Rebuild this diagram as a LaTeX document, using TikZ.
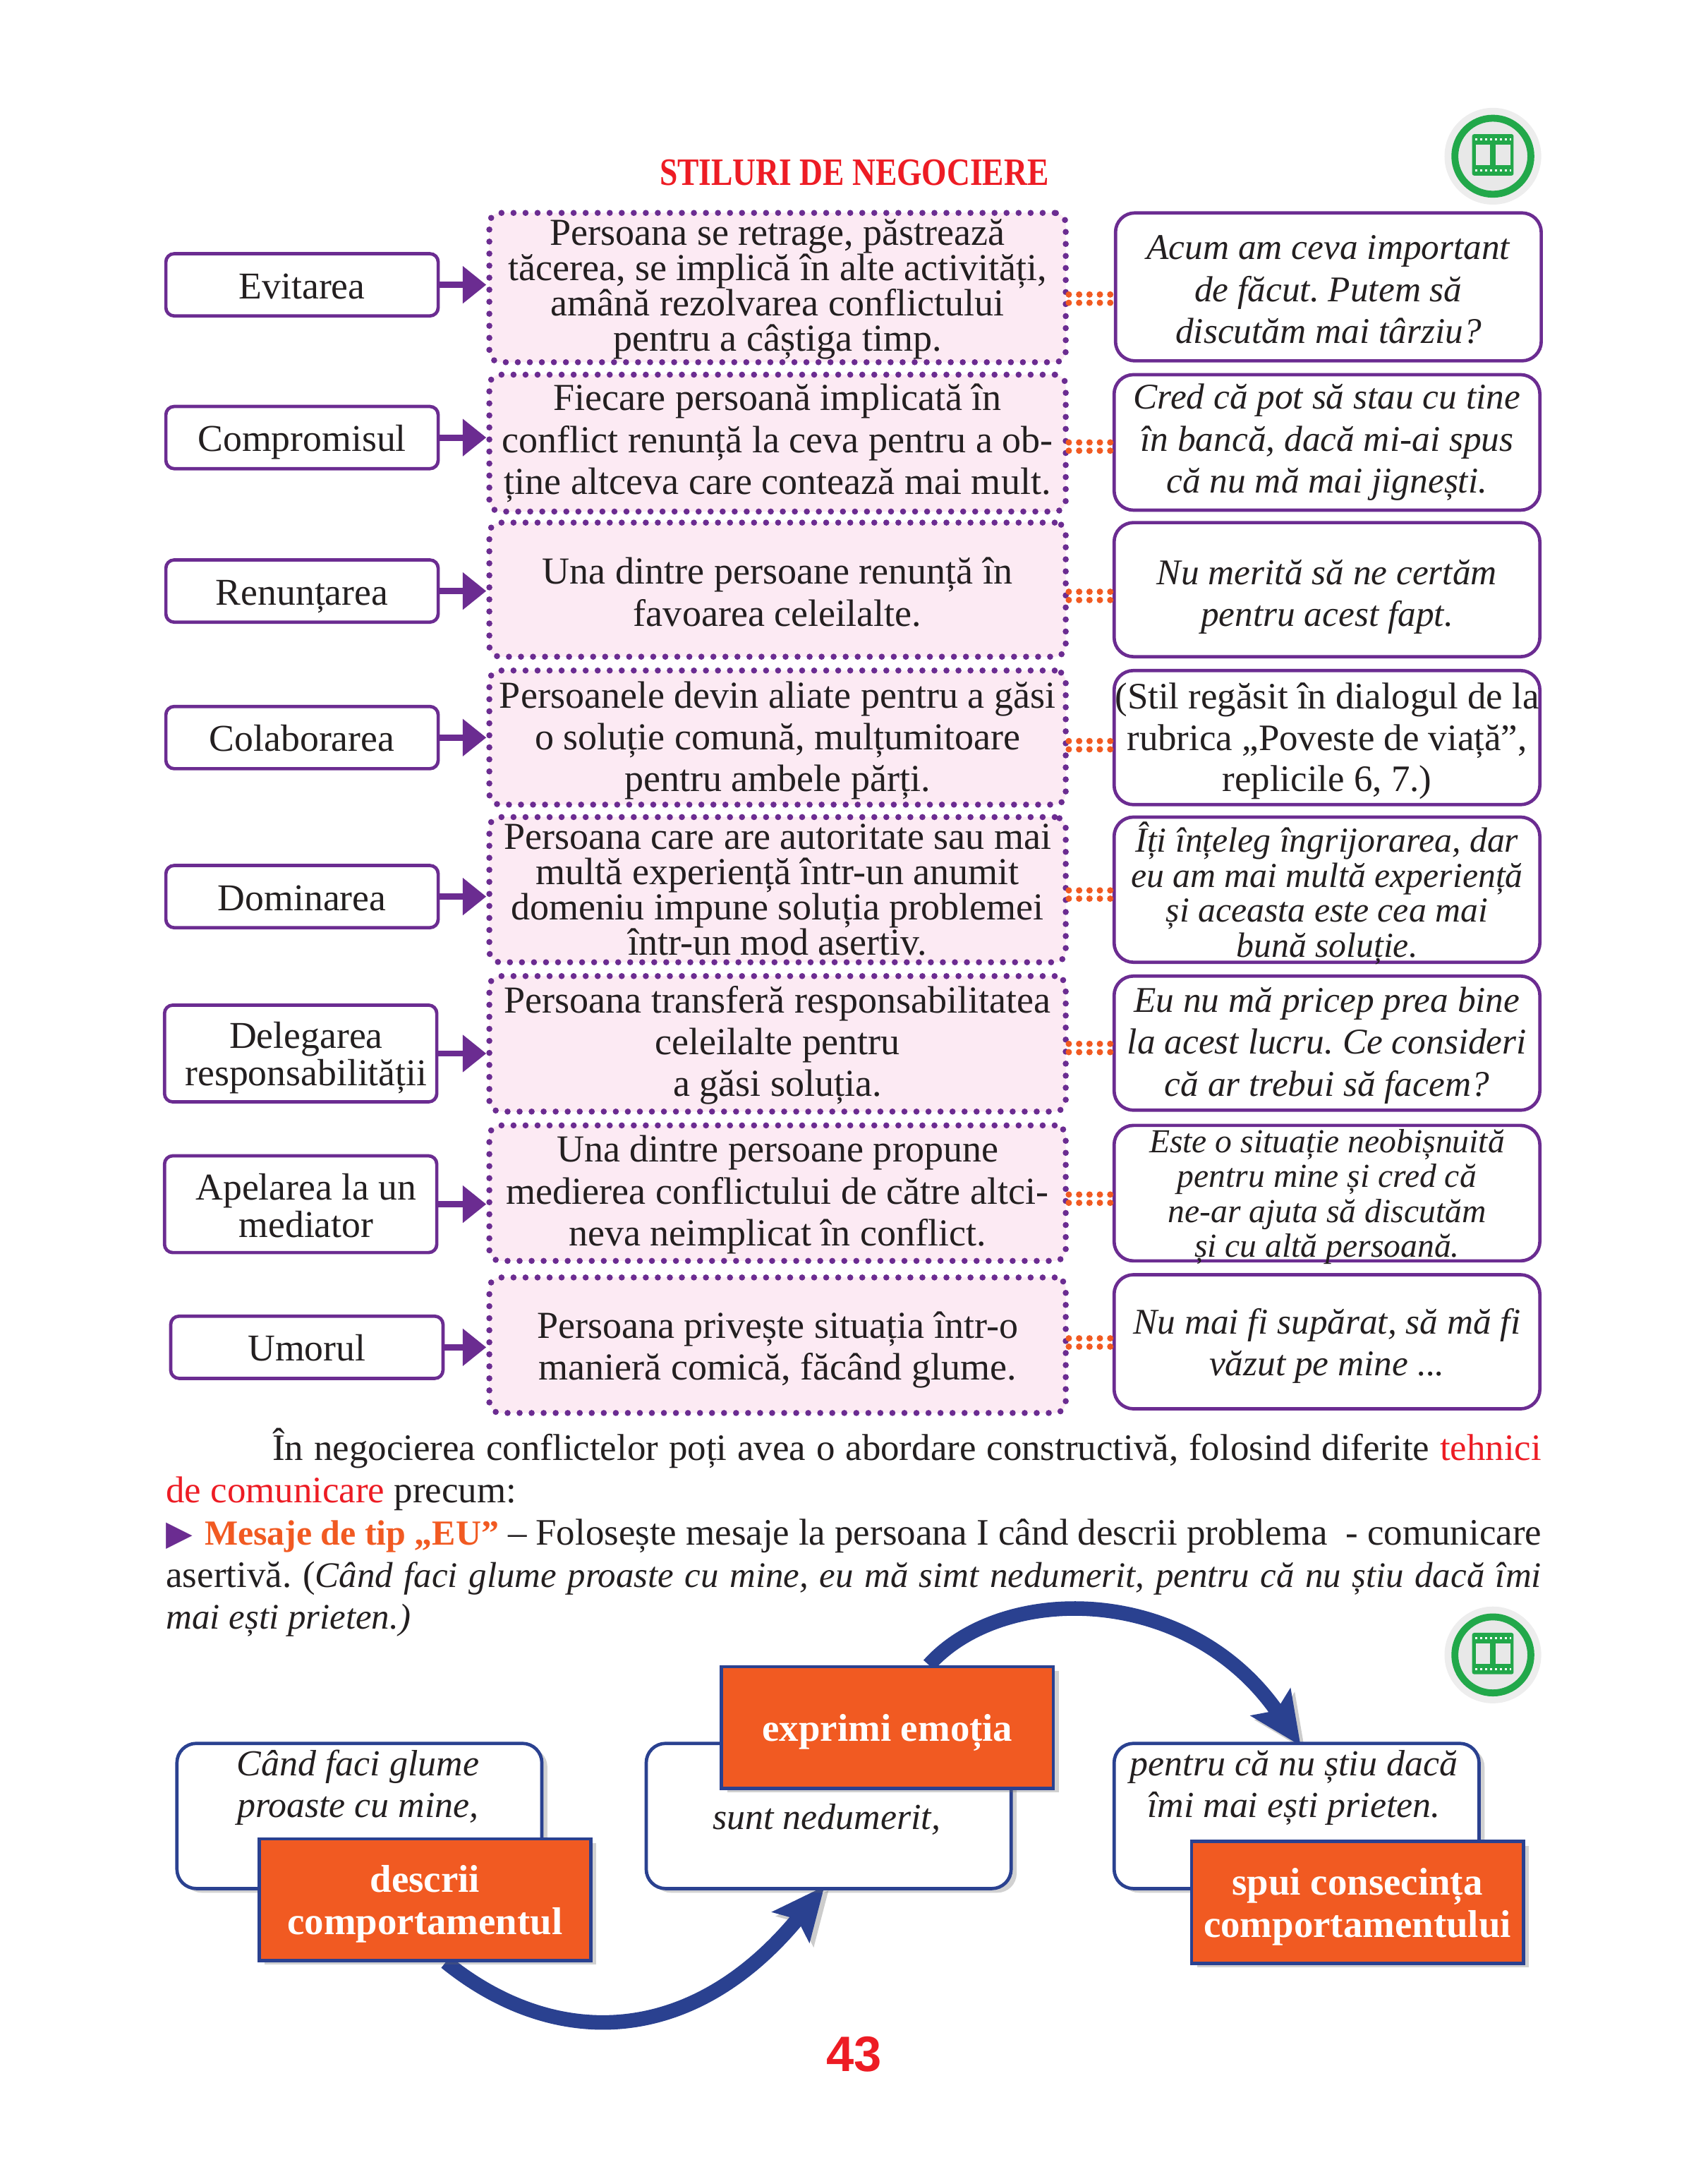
\documentclass[tikz,border=0pt]{standalone}
\usepackage{fontspec}
\setmainfont{Liberation Serif}
\newfontfamily\numfont{Liberation Sans}
\newfontfamily\symfont{DejaVu Sans}
\newfontfamily\titlefont{Liberation Serif}[FakeStretch=0.83]
\usetikzlibrary{arrows.meta,shadows,backgrounds}
\definecolor{stylepurple}{HTML}{6B2C91}
\definecolor{stylepink}{HTML}{FCEAF3}
\definecolor{styleorange}{HTML}{F15A22}
\definecolor{styleblue}{HTML}{2A4190}
\definecolor{stylered}{HTML}{ED1C24}
\definecolor{stylegreen}{HTML}{22A84A}
\definecolor{inkblack}{HTML}{231F20}
\tikzset{
  x=1pt, y=-1pt,
  every node/.style={text=inkblack},
  namebox/.style={draw=stylepurple, line width=2.4pt, rounded corners=6pt, inner sep=0pt,
    minimum width=197pt, minimum height=45pt, align=center, font=\fontsize{27.4}{27}\selectfont,
    execute at begin node={\rule[-6pt]{0pt}{32pt}}},
  midbox/.style={draw=stylepurple, fill=stylepink, line width=4.4pt, line cap=round,
    dash pattern=on 0pt off 8.7pt, rounded corners=8pt, inner sep=0pt, minimum width=417pt,
    align=center, font=\fontsize{27.6}{30.3}\selectfont},
  quotebox/.style={draw=stylepurple, line width=2.4pt, rounded corners=14pt, inner sep=0pt,
    minimum width=308pt, align=center, font=\fontsize{26.2}{30.3}\selectfont\itshape},
  tightrow/.style={font=\fontsize{27.6}{25.6}\selectfont},
  tightquote/.style={font=\fontsize{25.4}{25.3}\selectfont\itshape},
  smallquote/.style={font=\fontsize{24.3}{25.3}\selectfont\itshape},
  droptext/.style={execute at begin node={\rule{0pt}{#1}}},
  linkarrow/.style={-{Triangle[length=17pt,width=26pt]}, draw=stylepurple, line width=4.5pt},
  dotlink/.style={draw=styleorange, line width=4.6pt, line cap=round, dash pattern=on 0pt off 7.5pt},
  notebox/.style={draw=styleblue, fill=white, line width=2.4pt, rounded corners=14pt, inner sep=0pt,
    minimum width=264pt, minimum height=105pt,
    drop shadow={shadow xshift=4pt, shadow yshift=-3pt, opacity=.3, fill=black!60}},
  notetext/.style={inner sep=0pt, align=center, font=\fontsize{26.5}{30}\selectfont\itshape},
  stepbox/.style={draw=styleblue, fill=styleorange, line width=2.4pt, inner sep=0pt, text=white,
    minimum width=240pt, minimum height=88pt, align=center,
    font=\fontsize{28}{30.5}\selectfont\bfseries,
    drop shadow={shadow xshift=4pt, shadow yshift=-3pt, opacity=.3, fill=black!60}},
  curvearrow/.style={-{Stealth[length=38pt,width=34pt,inset=7pt]}, draw=styleblue, line width=10.5pt,
    preaction={draw=black!20, transform canvas={xshift=3pt,yshift=-3pt}}}
}
\begin{document}
\frenchspacing
\begin{tikzpicture}
    \useasboundingbox (0,0) rectangle (1235.4,1567.4);

    \node[text=stylered, font=\titlefont\fontsize{28}{30}\selectfont\bfseries] (title) at (618,125) {STILURI DE NEGOCIERE};

    % the eight rows
    \node[namebox] (evitarea) at (218.5,206) {Evitarea};
    \node[midbox, tightrow, droptext=98pt, minimum height=108pt] (evitareamid) at (562.5,208) {Persoana se retrage, păstrează\\tăcerea, se implică în alte activități,\\amână rezolvarea conflictului\\pentru a câștiga timp.};
    \node[quotebox, droptext=82pt, minimum height=107pt] (evitarearight) at (961,207.5) {Acum am ceva important\\de făcut. Putem să\\discutăm mai târziu?};

    \node[namebox] (compromis) at (218.5,316.5) {Compromisul};
    \node[midbox, minimum height=99pt] (compromismid) at (562.5,320.5) {Fiecare persoană implicată în\\conflict renunță la ceva pentru a ob-\\ține altceva care contează mai mult.};
    \node[quotebox, minimum height=98pt] (compromisright) at (960,320) {Cred că pot să stau cu tine\\în bancă, dacă mi-ai spus\\că nu mă mai jignești.};

    \node[namebox] (renuntare) at (218.5,427.5) {Renunțarea};
    \node[midbox, droptext=53pt, minimum height=97pt] (renuntaremid) at (562.5,426.5) {Una dintre persoane renunță în\\favoarea celeilalte.};
    \node[quotebox, droptext=59pt, minimum height=97pt] (renuntareright) at (960,426.5) {Nu merită să ne certăm\\pentru acest fapt.};

    \node[namebox] (colaborare) at (218.5,533.5) {Colaborarea};
    \node[midbox, droptext=84pt, minimum height=97pt] (colaboraremid) at (562.5,533.5) {Persoanele devin aliate pentru a găsi\\o soluție comună, mulțumitoare\\pentru ambele părți.};
    \node[quotebox, droptext=84pt, minimum height=97pt, font=\fontsize{27}{30}\selectfont] (colaborareright) at (960,533.5) {(Stil regăsit în dialogul de la\\rubrica „Poveste de viață”,\\replicile 6, 7.)};

    \node[namebox] (dominare) at (218.5,648.5) {Dominarea};
    \node[midbox, tightrow, minimum height=105pt] (dominaremid) at (562.5,643.5) {Persoana care are autoritate sau mai\\multă experiență într-un anumit\\domeniu impune soluția problemei\\\smash{într-un mod asertiv.}};
    \node[quotebox, tightquote, minimum height=105pt] (dominareright) at (960,643.5) {Îți înțeleg îngrijorarea, dar\\eu am mai multă experiență\\și aceasta este cea mai\\\smash{bună soluție.}};

    \node[namebox, droptext=52pt, minimum height=70pt] (delegare) at (217.5,762) {\hspace*{8pt}Delegarea\\\hspace*{8pt}responsabilității};
    \node[midbox, droptext=82pt, minimum height=98pt] (delegaremid) at (562.5,755) {Persoana transferă responsabilitatea\\celeilalte pentru\\a găsi soluția.};
    \node[quotebox, droptext=82pt, minimum height=97pt] (delegareright) at (960,754.5) {Eu nu mă pricep prea bine\\la acest lucru. Ce consideri\\că ar trebui să facem?};

    \node[namebox, droptext=54pt, minimum height=70pt] (mediator) at (217.5,871) {\hspace*{8pt}Apelarea la un\\\hspace*{8pt}mediator};
    \node[midbox, droptext=82pt, minimum height=98pt] (mediatormid) at (562.5,863) {Una dintre persoane propune\\medierea conflictului de către altci-\\neva neimplicat în conflict.};
    \node[quotebox, smallquote, minimum height=98pt] (mediatorright) at (960,863) {Este o situație neobișnuită\\pentru mine și cred că\\ne-ar ajuta să discutăm\\\smash{și cu altă persoană.}};

    \node[namebox] (umor) at (222,974.5) {Umorul};
    \node[midbox, droptext=56pt, minimum height=98pt] (umormid) at (562.5,973) {Persoana privește situația într-o\\manieră comică, făcând glume.};
    \node[quotebox, droptext=55pt, minimum height=97pt] (umorright) at (960,970.5) {Nu mai fi supărat, să mă fi\\văzut pe mine ...};

    % arrows on the left
    \draw[linkarrow] (evitarea.east) -- (evitarea.east -| evitareamid.west);
    \draw[linkarrow] (compromis.east) -- (compromis.east -| compromismid.west);
    \draw[linkarrow] (renuntare.east) -- (renuntare.east -| renuntaremid.west);
    \draw[linkarrow] (colaborare.east) -- (colaborare.east -| colaboraremid.west);
    \draw[linkarrow] (dominare.east) -- (dominare.east -| dominaremid.west);
    \draw[linkarrow] (delegare.east) -- (delegare.east -| delegaremid.west);
    \draw[linkarrow] (mediator.east) -- (mediator.east -| mediatormid.west);
    \draw[linkarrow] (umor.east) -- (umor.east -| umormid.west);

    % double dotted links on the right
    \foreach \nm/\yy in {evitarea/216, compromis/323, renuntare/431, colaborare/539, dominare/647, delegare/758, mediator/867, umor/971} {
        \draw[dotlink] ([yshift=3pt]\nm mid.east |- 0,\yy) -- ([yshift=3pt]\nm right.west |- 0,\yy);
        \draw[dotlink] ([yshift=-3pt]\nm mid.east |- 0,\yy) -- ([yshift=-3pt]\nm right.west |- 0,\yy);
    }

    % paragraph
    \node[anchor=north west, inner sep=0pt, text width=995pt, align=justify, font=\fontsize{27}{30.5}\selectfont] (para) at (120,1033) {%
        \hspace*{77pt}În negocierea conflictelor poți avea o abordare constructivă, folosind diferite {\color{stylered}tehnici}\linebreak
        {\color{stylered}de comunicare} precum:\\
        {\symfont\fontsize{25}{30}\selectfont\color{stylepurple}▶}\hspace{2pt} {\color{styleorange}\bfseries\fontsize{25.5}{30}\selectfont Mesaje de tip „EU”} – Folosește mesaje la persoana I când descrii problema~ - comunicare\linebreak
        asertivă. ({\itshape\fontsize{26}{30}\selectfont Când faci glume proaste cu mine, eu mă simt nedumerit, pentru că nu știu dacă îmi}\linebreak
        {\itshape\fontsize{26}{30}\selectfont mai ești prieten.)}};

    % bottom scheme
    \node[notebox] (cand) at (260,1313.5) {};
    \node[notebox] (sunt) at (599.5,1313.5) {};
    \node[notebox] (pentru) at (938,1313.5) {};
    \node[notetext] (candtext) at (259,1293) {Când faci glume\\proaste cu mine,};
    \node[notetext] (sunttext) at (598,1316) {sunt nedumerit,};
    \node[notetext] (pentrutext) at (936,1293) {pentru că nu știu dacă\\îmi mai ești prieten.};
    \node[stepbox, droptext=56pt] (descrii) at (307.5,1374) {descrii\\comportamentul};
    \node[stepbox, droptext=27pt] (exprimi) at (642,1249.5) {exprimi emoția};
    \node[stepbox, droptext=56pt] (spui) at (982,1376) {spui consecința\\comportamentului};
    \begin{pgfonlayer}{background}
        \draw[curvearrow] ([xshift=15pt]descrii.south) .. controls (400,1482) and (500,1482) .. ([yshift=3pt,xshift=-3pt]sunt.south);
        \draw[curvearrow] ([xshift=30pt]exprimi.north) .. controls (725,1145) and (860,1145) .. ([yshift=-3pt,xshift=3pt]pentru.north);
    \end{pgfonlayer}

    % film icons
    \foreach \iy in {113,1197} {
        \fill[black!7] (1080,\iy) circle (35pt);
        \draw[stylegreen, line width=5pt, fill=black!9] (1080,\iy) circle (27.5pt);
        \fill[stylegreen, rounded corners=1.5pt] (1065,\iy-16) rectangle (1095,\iy+14);
        \fill[black!9] (1067.5,\iy-8.5) rectangle (1078,\iy+6.5);
        \fill[black!9] (1082,\iy-8.5) rectangle (1092.5,\iy+6.5);
        \draw[white, line width=1.6pt, dash pattern=on 1.6pt off 2pt] (1067,\iy-12.2) -- (1093,\iy-12.2);
        \draw[white, line width=1.6pt, dash pattern=on 1.6pt off 2pt] (1067,\iy+10.2) -- (1093,\iy+10.2);
    }

    \node[text=stylered, font=\numfont\fontsize{36}{36}\selectfont\bfseries] (pagenum) at (618,1486) {43};
\end{tikzpicture}
\end{document}
